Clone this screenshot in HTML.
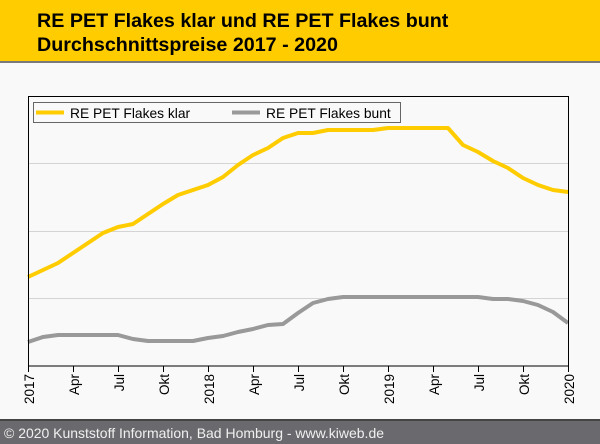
<!DOCTYPE html>
<html><head><meta charset="utf-8"><style>
body{margin:0;width:600px;height:444px;overflow:hidden;background:#f9f9f9;font-family:"Liberation Sans",sans-serif}
</style></head><body>
<svg width="600" height="444" xmlns="http://www.w3.org/2000/svg" style="position:absolute;left:0;top:0">
<rect x="0" y="0" width="600" height="444" fill="#f9f9f9"/>
<rect x="0" y="0" width="600" height="61" fill="#ffcc00"/>
<rect x="0" y="61" width="600" height="2" fill="#7a7a7a"/>
<text x="37" y="27" font-size="19.7" font-weight="bold" fill="#000">RE PET Flakes klar und RE PET Flakes bunt</text>
<text x="37" y="51" font-size="19.7" font-weight="bold" fill="#000">Durchschnittspreise 2017 - 2020</text>
<g stroke="#d4d4d4" stroke-width="1">
<line x1="29" y1="163.5" x2="568" y2="163.5"/>
<line x1="29" y1="231.5" x2="568" y2="231.5"/>
<line x1="29" y1="298.5" x2="568" y2="298.5"/>
</g>
<polyline fill="none" stroke="#ffcc00" stroke-width="4" stroke-linejoin="round" points="28,277 43,270 58,263 73,253 88,243 103,233 118,227 133,224 148,214 163,204 178,195 193,190 208,185 223,177 238,165 253,155 268,148 283,138 298,133 313,133 328,130 343,130 358,130 373,130 388,128 403,128 418,128 433,128 448,128 463,145 478,152 493,161 508,168 523,178 538,185 553,190 568,192"/>
<polyline fill="none" stroke="#999999" stroke-width="4" stroke-linejoin="round" points="28,342 43,337 58,335 73,335 88,335 103,335 118,335 133,339 148,341 163,341 178,341 193,341 208,338 223,336 238,332 253,329 268,325 283,324 298,313 313,303 328,299 343,297 358,297 373,297 388,297 403,297 418,297 433,297 448,297 463,297 478,297 493,299 508,299 523,301 538,305 553,312 568,323"/>
<rect x="28.5" y="96.5" width="540" height="269.5" fill="none" stroke="#000" stroke-width="1"/>
<rect x="33.5" y="102.5" width="367" height="20" fill="#f9f9f9" stroke="#666" stroke-width="1"/>
<line x1="36" y1="112.5" x2="64" y2="112.5" stroke="#ffcc00" stroke-width="4"/>
<text x="70" y="118" font-size="13.8" fill="#000">RE PET Flakes klar</text>
<line x1="232" y1="112.5" x2="260" y2="112.5" stroke="#999" stroke-width="4"/>
<text x="266" y="118" font-size="13.8" fill="#000">RE PET Flakes bunt</text>
<g stroke="#000" stroke-width="1">
<line x1="28.5" y1="366" x2="28.5" y2="372"/><line x1="73.5" y1="366" x2="73.5" y2="372"/><line x1="118.5" y1="366" x2="118.5" y2="372"/><line x1="163.5" y1="366" x2="163.5" y2="372"/><line x1="208.5" y1="366" x2="208.5" y2="372"/><line x1="253.5" y1="366" x2="253.5" y2="372"/><line x1="298.5" y1="366" x2="298.5" y2="372"/><line x1="343.5" y1="366" x2="343.5" y2="372"/><line x1="388.5" y1="366" x2="388.5" y2="372"/><line x1="433.5" y1="366" x2="433.5" y2="372"/><line x1="478.5" y1="366" x2="478.5" y2="372"/><line x1="523.5" y1="366" x2="523.5" y2="372"/><line x1="568.5" y1="366" x2="568.5" y2="372"/>
</g>
<g font-size="13.5" fill="#000" text-anchor="end">
<text transform="translate(34,374) rotate(-90)">2017</text>
<text transform="translate(79,374) rotate(-90)">Apr</text>
<text transform="translate(124,374) rotate(-90)">Jul</text>
<text transform="translate(169,374) rotate(-90)">Okt</text>
<text transform="translate(214,374) rotate(-90)">2018</text>
<text transform="translate(259,374) rotate(-90)">Apr</text>
<text transform="translate(304,374) rotate(-90)">Jul</text>
<text transform="translate(349,374) rotate(-90)">Okt</text>
<text transform="translate(394,374) rotate(-90)">2019</text>
<text transform="translate(439,374) rotate(-90)">Apr</text>
<text transform="translate(484,374) rotate(-90)">Jul</text>
<text transform="translate(529,374) rotate(-90)">Okt</text>
<text transform="translate(574,374) rotate(-90)">2020</text>
</g>
<rect x="0" y="419" width="600" height="2" fill="#444"/>
<rect x="0" y="421" width="600" height="23" fill="#6a6a6e"/>
<text x="4" y="438" font-size="14" fill="#f0f0f0" textLength="380" lengthAdjust="spacingAndGlyphs">© 2020 Kunststoff Information, Bad Homburg - www.kiweb.de</text>
</svg>
</body></html>
